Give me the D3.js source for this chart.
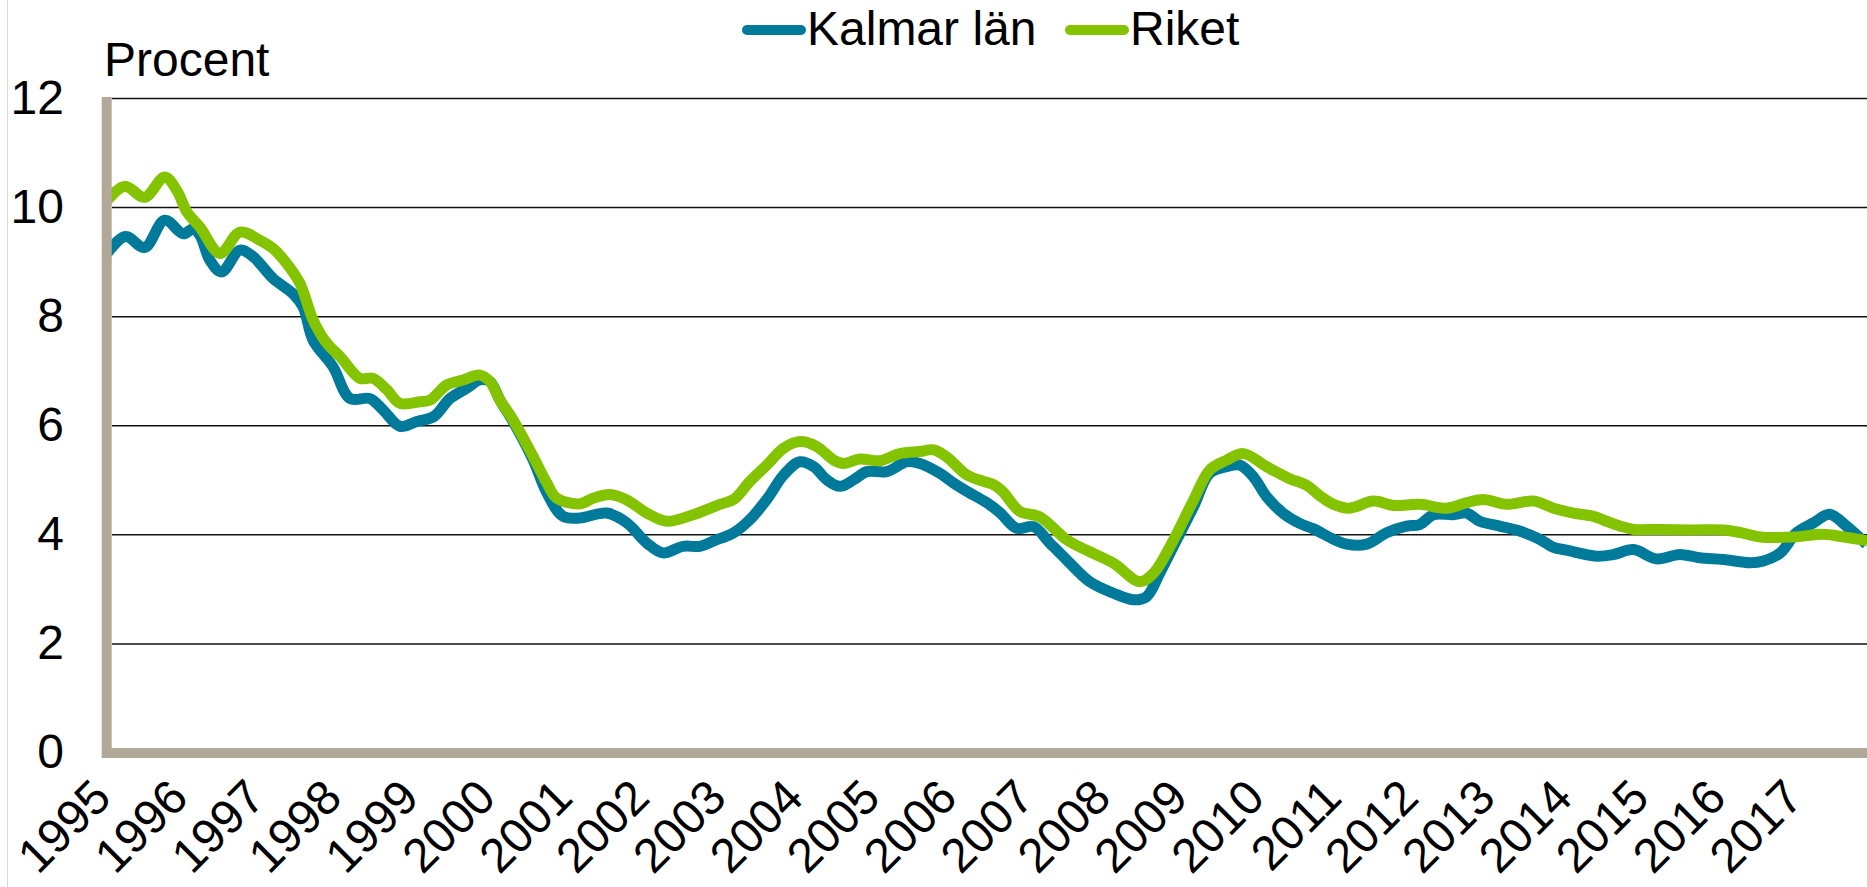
<!DOCTYPE html>
<html>
<head>
<meta charset="utf-8">
<script src="https://cdn.jsdelivr.net/npm/d3@7"></script>
<style>
  html, body { margin: 0; padding: 0; background: #fff; }
  svg { display: block; font-family: "Liberation Sans", Arial, sans-serif; }
</style>
</head>
<body>
<svg id="chart" width="1867" height="887"></svg>
<script>
// tick labels
const yearTicks = d3.range(1995, 2018);
const yTicks = [0, 2, 4, 6, 8, 10, 12];

// Kalmar län (decimal year, percent)
const kalmarYears = [1995.00, 1995.24, 1995.49, 1995.75, 1995.99, 1996.12, 1996.21, 1996.34, 1996.49, 1996.73,
  1996.90, 1997.16, 1997.42, 1997.55, 1997.68, 1997.94, 1998.16, 1998.42, 1998.59, 1998.81,
  1999.03, 1999.25, 1999.46, 1999.68, 1999.85, 1999.98, 2000.11, 2000.28, 2000.54, 2000.72,
  2000.93, 2001.15, 2001.50, 2001.76, 2002.02, 2002.23, 2002.49, 2002.71, 2002.89, 2003.15,
  2003.36, 2003.58, 2003.80, 2004.01, 2004.19, 2004.36, 2004.53, 2004.71, 2004.88, 2005.14,
  2005.40, 2005.57, 2005.83, 2006.01, 2006.18, 2006.44, 2006.61, 2006.83, 2007.05, 2007.26,
  2007.48, 2007.78, 2008.09, 2008.35, 2008.52, 2008.69, 2008.91, 2009.13, 2009.34, 2009.56,
  2009.73, 2009.91, 2010.08, 2010.30, 2010.51, 2010.69, 2010.95, 2011.12, 2011.38, 2011.64,
  2011.90, 2012.07, 2012.25, 2012.51, 2012.68, 2012.85, 2013.11, 2013.37, 2013.63, 2013.81,
  2013.98, 2014.37, 2014.59, 2014.85, 2015.15, 2015.45, 2015.71, 2016.02, 2016.37, 2016.54,
  2016.76, 2016.97, 2017.19, 2017.40, 2017.62, 2017.88];
const kalmarValues = [9.15, 9.46, 9.26, 9.76, 9.51, 9.60, 9.48, 9.02, 8.81, 9.21,
  9.09, 8.69, 8.41, 8.17, 7.56, 7.07, 6.49, 6.49, 6.28, 5.98,
  6.07, 6.16, 6.49, 6.68, 6.83, 6.80, 6.46, 6.07, 5.37, 4.76,
  4.33, 4.30, 4.39, 4.21, 3.84, 3.66, 3.78, 3.78, 3.88, 4.03,
  4.27, 4.64, 5.09, 5.33, 5.24, 5.00, 4.88, 5.00, 5.15, 5.15,
  5.33, 5.30, 5.12, 4.94, 4.79, 4.58, 4.40, 4.11, 4.14, 3.84,
  3.53, 3.13, 2.92, 2.80, 2.86, 3.29, 3.90, 4.51, 5.12, 5.24,
  5.27, 5.05, 4.69, 4.38, 4.20, 4.10, 3.91, 3.82, 3.82, 4.03,
  4.15, 4.18, 4.36, 4.36, 4.39, 4.24, 4.15, 4.06, 3.91, 3.76,
  3.71, 3.60, 3.63, 3.72, 3.55, 3.63, 3.57, 3.54, 3.48, 3.51,
  3.66, 4.03, 4.21, 4.37, 4.15, 3.82];

// Riket
const riketYears = [1995.00, 1995.23, 1995.49, 1995.75, 1995.91, 1996.04, 1996.21, 1996.47, 1996.73, 1996.99,
  1997.16, 1997.34, 1997.51, 1997.68, 1997.86, 1998.03, 1998.29, 1998.46, 1998.64, 1998.81,
  1999.07, 1999.20, 1999.42, 1999.63, 1999.85, 1999.98, 2000.11, 2000.28, 2000.54, 2000.72,
  2000.85, 2001.15, 2001.32, 2001.54, 2001.76, 2002.02, 2002.28, 2002.62, 2002.97, 2003.15,
  2003.36, 2003.58, 2003.80, 2004.01, 2004.23, 2004.45, 2004.58, 2004.79, 2005.05, 2005.31,
  2005.57, 2005.75, 2005.92, 2006.18, 2006.40, 2006.53, 2006.65, 2006.87, 2007.13, 2007.48,
  2007.78, 2008.09, 2008.43, 2008.61, 2008.87, 2009.13, 2009.34, 2009.56, 2009.78, 2010.08,
  2010.38, 2010.60, 2010.78, 2010.95, 2011.16, 2011.47, 2011.73, 2012.07, 2012.42, 2012.68,
  2012.90, 2013.20, 2013.55, 2013.81, 2014.07, 2014.33, 2014.50, 2014.68, 2014.85, 2015.20,
  2015.59, 2016.02, 2016.25, 2016.50, 2016.93, 2017.31, 2017.55, 2017.89];
const riketValues = [10.12, 10.38, 10.18, 10.55, 10.30, 9.91, 9.63, 9.15, 9.54, 9.39,
  9.24, 8.96, 8.60, 7.93, 7.50, 7.26, 6.86, 6.86, 6.65, 6.40,
  6.43, 6.46, 6.74, 6.83, 6.92, 6.80, 6.46, 6.10, 5.43, 4.94,
  4.66, 4.56, 4.66, 4.73, 4.63, 4.39, 4.24, 4.36, 4.55, 4.64,
  4.97, 5.27, 5.58, 5.70, 5.61, 5.36, 5.30, 5.38, 5.35, 5.48,
  5.52, 5.55, 5.42, 5.09, 4.97, 4.91, 4.78, 4.42, 4.32, 3.90,
  3.68, 3.47, 3.13, 3.29, 3.90, 4.63, 5.18, 5.36, 5.48, 5.24,
  5.02, 4.90, 4.70, 4.55, 4.48, 4.61, 4.53, 4.55, 4.48, 4.58,
  4.64, 4.55, 4.61, 4.48, 4.39, 4.33, 4.24, 4.15, 4.09, 4.09,
  4.08, 4.08, 4.03, 3.95, 3.95, 4.00, 3.96, 3.88];

const series = [
  {name: "Kalmar län", color: "#007a9a", years: kalmarYears, values: kalmarValues},
  {name: "Riket", color: "#84c300", years: riketYears, values: riketValues}
];

const svg = d3.select("#chart");
const W = 1867;
const axisColor = "#b2a898";

let x = d3.scaleLinear().domain([1995, 2018]).range([107, 107 + 23 * 76.9]);
let y = d3.scaleLinear().domain([0, 12]).range([752.5, 98]);

// faint frame line at the far left
svg.append("line")
   .attr("x1", 7.5).attr("x2", 7.5).attr("y1", 0).attr("y2", 887)
   .attr("stroke", "#d9d9d9").attr("stroke-width", 1);

// y axis with gridlines
let yAxis = svg.append("g")
   .attr("transform", "translate(112,0)")
   .call(d3.axisLeft(y).tickValues(yTicks).tickSize(-(W - 112)).tickPadding(48));
yAxis.select(".domain").remove();
yAxis.selectAll(".tick line").attr("stroke", "#111").attr("stroke-width", 1.5);
yAxis.selectAll(".tick text")
     .attr("font-size", 48).attr("fill", "#000")
     .attr("font-family", "Liberation Sans, Arial, sans-serif");

// x axis labels, rotated
let xAxis = svg.append("g")
   .attr("transform", "translate(0,753)")
   .call(d3.axisBottom(x).tickValues(yearTicks).tickFormat(d3.format("d")).tickSize(0));
xAxis.select(".domain").remove();
xAxis.selectAll(".tick text")
     .attr("x", 0).attr("y", 0).attr("dy", 0)
     .attr("transform", "translate(6,47) rotate(-45)")
     .attr("text-anchor", "end")
     .attr("font-size", 48).attr("fill", "#000")
     .attr("font-family", "Liberation Sans, Arial, sans-serif");

// series lines
let line = d3.line()
   .x(function(d) { return x(d[0]); })
   .y(function(d) { return y(d[1]); })
   .curve(d3.curveCatmullRom.alpha(0.5));

svg.append("g").selectAll("path")
   .data(series)
   .enter().append("path")
   .attr("d", function(s) { return line(d3.zip(s.years, s.values)); })
   .attr("fill", "none")
   .attr("stroke", function(s) { return s.color; })
   .attr("stroke-width", 11)
   .attr("stroke-linejoin", "round");

// axis bands drawn on top
svg.append("line")
   .attr("x1", 106.7).attr("x2", 106.7).attr("y1", 97).attr("y2", 758)
   .attr("stroke", axisColor).attr("stroke-width", 10);
svg.append("line")
   .attr("x1", 102).attr("x2", W).attr("y1", 753).attr("y2", 753)
   .attr("stroke", axisColor).attr("stroke-width", 10);

// unit label
svg.append("text")
   .attr("x", 104).attr("y", 76)
   .attr("font-size", 48)
   .text("Procent");

// legend
let legendPos = [747, 1070];
let legend = svg.append("g").selectAll("g")
   .data(series)
   .enter().append("g")
   .attr("transform", function(d, i) { return "translate(" + legendPos[i] + ",0)"; });
legend.append("line")
   .attr("x1", 0).attr("x2", 54).attr("y1", 30).attr("y2", 30)
   .attr("stroke", function(d) { return d.color; })
   .attr("stroke-width", 10)
   .attr("stroke-linecap", "round");
legend.append("text")
   .attr("x", 60).attr("y", 45)
   .attr("font-size", 48)
   .text(function(d) { return d.name; });
</script>
</body>
</html>
